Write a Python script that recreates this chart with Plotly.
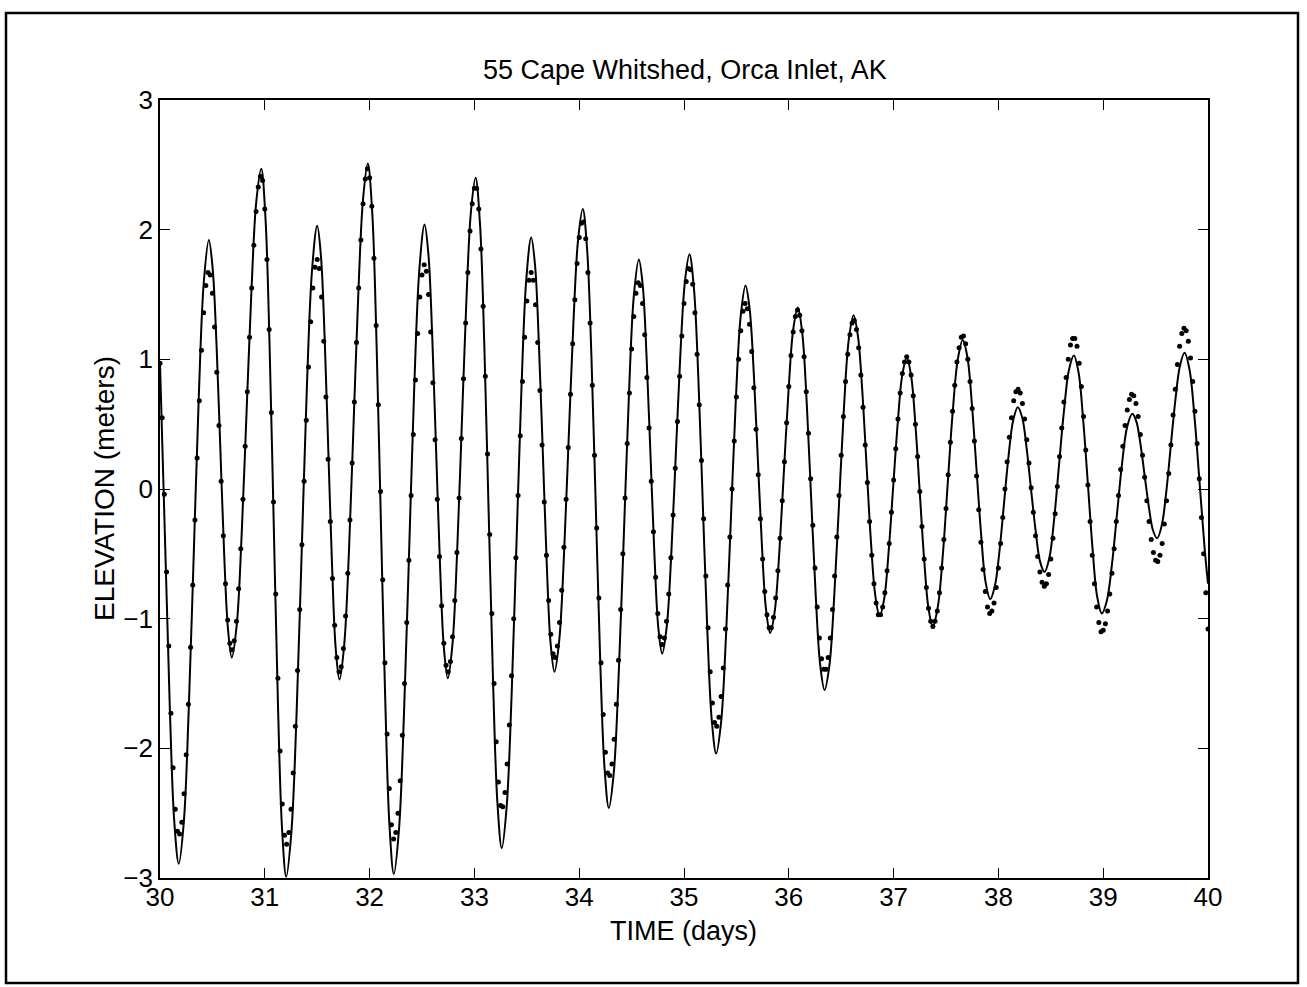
import plotly.graph_objects as go

# ---------------- data ----------------
# Observed elevation (m): one dot every half hour from day 30.0 to day 40.0
obs_start_day = 30.0
obs_step_hours = 0.5
obs_elev = [
    0.97, 0.55, -0.04, -0.64, -1.21, -1.73, -2.15, -2.47, -2.64,
    -2.66, -2.57, -2.35, -2.05, -1.66, -1.22, -0.74, -0.24, 0.24, 0.68, 1.07, 1.36, 1.57, 1.67,
    1.65, 1.51, 1.25, 0.90, 0.49, 0.06, -0.36, -0.73, -1.01, -1.19,
    -1.24, -1.17, -1.02, -0.77, -0.46, -0.08, 0.33, 0.75, 1.17, 1.55, 1.88, 2.14, 2.33, 2.41,
    2.38, 2.16, 1.77, 1.23, 0.59, -0.10, -0.81, -1.46, -2.02, -2.43, -2.67,
    -2.74, -2.65, -2.47, -2.19, -1.83, -1.40, -0.93, -0.43, 0.06, 0.53, 0.94, 1.29, 1.55, 1.71, 1.77,
    1.70, 1.48, 1.14, 0.71, 0.23, -0.25, -0.69, -1.05, -1.30, -1.41,
    -1.37, -1.23, -0.98, -0.65, -0.24, 0.20, 0.67, 1.13, 1.55, 1.92, 2.20, 2.39, 2.47,
    2.40, 2.18, 1.78, 1.26, 0.65, -0.02, -0.70, -1.34, -1.89, -2.31, -2.59, -2.70,
    -2.65, -2.50, -2.25, -1.90, -1.50, -1.03, -0.55, -0.05, 0.42, 0.84, 1.20, 1.48, 1.65, 1.73,
    1.68, 1.50, 1.21, 0.82, 0.38, -0.08, -0.52, -0.90, -1.19, -1.36,
    -1.41, -1.33, -1.14, -0.86, -0.49, -0.07, 0.39, 0.85, 1.28, 1.67, 1.99, 2.20, 2.32,
    2.32, 2.16, 1.85, 1.41, 0.87, 0.27, -0.35, -0.96, -1.50, -1.95, -2.26, -2.44,
    -2.45, -2.34, -2.12, -1.82, -1.44, -1.00, -0.53, -0.05, 0.41, 0.83, 1.17, 1.45, 1.61, 1.67,
    1.61, 1.42, 1.13, 0.76, 0.34, -0.10, -0.51, -0.86, -1.12, -1.27,
    -1.30, -1.21, -1.03, -0.78, -0.45, -0.08, 0.32, 0.73, 1.12, 1.46, 1.74, 1.94, 2.05,
    2.06, 1.93, 1.67, 1.28, 0.80, 0.26, -0.30, -0.84, -1.34, -1.74, -2.03, -2.19,
    -2.21, -2.12, -1.93, -1.66, -1.32, -0.93, -0.50, -0.07, 0.35, 0.74, 1.08, 1.33, 1.51, 1.59,
    1.57, 1.43, 1.19, 0.86, 0.47, 0.06, -0.33, -0.68, -0.96, -1.14, -1.20,
    -1.15, -1.02, -0.81, -0.53, -0.20, 0.16, 0.52, 0.87, 1.18, 1.43, 1.60, 1.70,
    1.69, 1.58, 1.36, 1.04, 0.65, 0.22, -0.23, -0.67, -1.07, -1.41, -1.65, -1.80,
    -1.83, -1.76, -1.60, -1.38, -1.08, -0.74, -0.37, 0.00, 0.37, 0.71, 1.00, 1.22, 1.37, 1.43,
    1.39, 1.27, 1.06, 0.78, 0.46, 0.11, -0.23, -0.54, -0.79, -0.97, -1.07,
    -1.07, -0.99, -0.84, -0.63, -0.38, -0.09, 0.21, 0.51, 0.79, 1.03, 1.21, 1.33, 1.38,
    1.34, 1.22, 1.02, 0.75, 0.43, 0.08, -0.28, -0.61, -0.91, -1.15, -1.31, -1.39,
    -1.39, -1.30, -1.15, -0.93, -0.67, -0.37, -0.05, 0.26, 0.56, 0.83, 1.04, 1.19, 1.28,
    1.30, 1.23, 1.09, 0.88, 0.63, 0.34, 0.05, -0.25, -0.51, -0.73, -0.88, -0.97,
    -0.97, -0.91, -0.80, -0.63, -0.42, -0.18, 0.07, 0.31, 0.54, 0.74, 0.89, 0.98, 1.02,
    0.98, 0.88, 0.72, 0.50, 0.25, -0.02, -0.29, -0.54, -0.76, -0.92, -1.02,
    -1.06, -1.02, -0.94, -0.80, -0.61, -0.39, -0.15, 0.11, 0.36, 0.60, 0.80, 0.98, 1.09, 1.17,
    1.18, 1.12, 1.00, 0.83, 0.62, 0.37, 0.10, -0.16, -0.41, -0.62, -0.79, -0.91, -0.96,
    -0.94, -0.88, -0.76, -0.61, -0.42, -0.22, 0.00, 0.21, 0.40, 0.55, 0.68, 0.75,
    0.77, 0.74, 0.66, 0.54, 0.38, 0.20, 0.01, -0.18, -0.36, -0.52, -0.64, -0.72, -0.75,
    -0.73, -0.66, -0.54, -0.38, -0.19, 0.02, 0.25, 0.47, 0.67, 0.86, 1.00, 1.11, 1.16,
    1.16, 1.10, 0.97, 0.79, 0.56, 0.30, 0.03, -0.25, -0.51, -0.73, -0.91, -1.03, -1.10,
    -1.09, -1.04, -0.94, -0.81, -0.65, -0.46, -0.25, -0.05, 0.15, 0.33, 0.49, 0.61, 0.69, 0.73,
    0.72, 0.66, 0.56, 0.42, 0.26, 0.09, -0.09, -0.25, -0.39, -0.49, -0.55,
    -0.56, -0.51, -0.42, -0.27, -0.09, 0.12, 0.34, 0.57, 0.77, 0.96, 1.10, 1.20, 1.24,
    1.22, 1.14, 1.01, 0.83, 0.60, 0.35, 0.08, -0.22, -0.50, -0.80, -1.08,
]

model_hours = [
    0.00, 1.19, 2.23, 3.26, 4.30,
    5.45, 6.59, 7.74, 8.89, 10.04, 11.19,
    12.06, 12.94, 13.82, 14.69, 15.57, 16.44,
    17.57, 18.69, 19.82, 20.94, 22.06, 23.19,
    24.14, 25.09, 26.04, 26.99, 27.95, 28.90,
    30.08, 31.27, 32.45, 33.63, 34.82, 36.00,
    36.85, 37.71, 38.56, 39.41, 40.26, 41.11,
    42.19, 43.27, 44.35, 45.43, 46.51, 47.59,
    48.59, 49.58, 50.57, 51.56, 52.56, 53.55,
    54.72, 55.89, 57.06, 58.23, 59.41, 60.58,
    61.47, 62.35, 63.24, 64.13, 65.02, 65.91,
    66.97, 68.03, 69.09, 70.15, 71.21, 72.27,
    73.27, 74.27, 75.27, 76.27, 77.27, 78.27,
    79.39, 80.52, 81.64, 82.76, 83.89, 85.01,
    85.90, 86.79, 87.68, 88.56, 89.45, 90.34,
    91.42, 92.50, 93.58, 94.66, 95.74, 96.82,
    97.81, 98.81, 99.81, 100.80, 101.80, 102.79,
    103.94, 105.08, 106.23, 107.37, 108.51, 109.66,
    110.55, 111.44, 112.34, 113.23, 114.12, 115.01,
    116.05, 117.09, 118.13, 119.17, 120.21, 121.25,
    122.27, 123.29, 124.31, 125.33, 126.35, 127.37,
    128.49, 129.61, 130.73, 131.85, 132.97, 134.09,
    135.03, 135.97, 136.91, 137.85, 138.79, 139.73,
    140.79, 141.84, 142.90, 143.96, 145.01, 146.07,
    147.09, 148.11, 149.13, 150.15, 151.17, 152.19,
    153.30, 154.40, 155.51, 156.62, 157.73, 158.83,
    159.83, 160.82, 161.81, 162.80, 163.80, 164.79,
    165.83, 166.87, 167.91, 168.95, 169.99, 171.03,
    172.02, 173.01, 174.00, 174.99, 175.99, 176.98,
    178.12, 179.27, 180.41, 181.55, 182.70, 183.84,
    184.89, 185.94, 186.99, 188.04, 189.08, 190.13,
    191.18, 192.24, 193.29, 194.34, 195.39, 196.44,
    197.46, 198.48, 199.50, 200.52, 201.54, 202.56,
    203.68, 204.80, 205.92, 207.04, 208.16, 209.28,
    210.35, 211.42, 212.49, 213.56, 214.62, 215.69,
    216.85, 218.01, 219.17, 220.33, 221.49, 222.65,
    223.60, 224.56, 225.51, 226.46, 227.41, 228.36,
    229.41, 230.45, 231.50, 232.54, 233.58, 234.63,
    235.77, 236.92, 238.07, 239.21, 240.00,
]
model_elev = [
    0.97, -0.44, -1.67, -2.56, -2.89,
    -2.57, -1.69, -0.49, 0.72, 1.60, 1.92,
    1.70, 1.12, 0.31, -0.50, -1.08, -1.30,
    -1.05, -0.36, 0.59, 1.53, 2.22, 2.47,
    2.10, 1.11, -0.26, -1.63, -2.62, -2.99,
    -2.65, -1.74, -0.48, 0.78, 1.69, 2.03,
    1.80, 1.16, 0.28, -0.60, -1.24, -1.47,
    -1.20, -0.48, 0.52, 1.52, 2.24, 2.51,
    2.14, 1.14, -0.23, -1.60, -2.60, -2.97,
    -2.63, -1.72, -0.47, 0.79, 1.70, 2.04,
    1.81, 1.17, 0.29, -0.59, -1.23, -1.46,
    -1.20, -0.50, 0.47, 1.44, 2.14, 2.40,
    2.05, 1.11, -0.19, -1.48, -2.42, -2.77,
    -2.45, -1.59, -0.42, 0.76, 1.62, 1.94,
    1.72, 1.10, 0.27, -0.57, -1.19, -1.41,
    -1.17, -0.52, 0.38, 1.27, 1.92, 2.16,
    1.85, 1.01, -0.15, -1.31, -2.15, -2.46,
    -2.18, -1.40, -0.35, 0.71, 1.49, 1.77,
    1.57, 1.01, 0.25, -0.51, -1.07, -1.27,
    -1.06, -0.50, 0.27, 1.04, 1.60, 1.81,
    1.55, 0.85, -0.12, -1.08, -1.78, -2.04,
    -1.80, -1.14, -0.24, 0.67, 1.33, 1.57,
    1.39, 0.90, 0.23, -0.44, -0.93, -1.11,
    -0.94, -0.48, 0.15, 0.77, 1.23, 1.40,
    1.20, 0.66, -0.08, -0.81, -1.35, -1.55,
    -1.36, -0.83, -0.11, 0.62, 1.15, 1.34,
    1.18, 0.76, 0.18, -0.40, -0.82, -0.98,
    -0.85, -0.48, 0.02, 0.51, 0.88, 1.01,
    0.87, 0.49, -0.03, -0.54, -0.92, -1.06,
    -0.91, -0.51, 0.05, 0.60, 1.00, 1.15,
    1.02, 0.65, 0.15, -0.35, -0.72, -0.85,
    -0.75, -0.48, -0.11, 0.26, 0.53, 0.63,
    0.55, 0.31, -0.01, -0.32, -0.56, -0.64,
    -0.53, -0.22, 0.20, 0.61, 0.92, 1.03,
    0.90, 0.53, 0.04, -0.46, -0.83, -0.96,
    -0.86, -0.58, -0.19, 0.20, 0.48, 0.58,
    0.52, 0.34, 0.10, -0.14, -0.32, -0.38,
    -0.28, -0.02, 0.34, 0.69, 0.95, 1.05,
    0.92, 0.55, 0.05, -0.45, -0.73,
]

x_ticks = [30, 31, 32, 33, 34, 35, 36, 37, 38, 39, 40]
y_ticks = [-3, -2, -1, 0, 1, 2, 3]

title_text = "55 Cape Whitshed, Orca Inlet, AK"
x_title = "TIME (days)"
y_title = "ELEVATION (meters)"

# ---------------- figure ----------------
obs_days = [obs_start_day + i * obs_step_hours / 24.0 for i in range(len(obs_elev))]
model_days = [obs_start_day + h / 24.0 for h in model_hours]

FONT = "Liberation Sans, Arial, Helvetica, sans-serif"

fig = go.Figure()
fig.add_trace(go.Scatter(
    x=model_days, y=model_elev, mode="lines",
    line=dict(color="black", width=2.0, shape="spline", smoothing=1.0),
    hoverinfo="skip", showlegend=False,
))
fig.add_trace(go.Scatter(
    x=obs_days, y=obs_elev, mode="markers",
    marker=dict(color="black", size=5, line=dict(width=0)),
    hoverinfo="skip", showlegend=False,
))

L, R, T, B = 160, 1208, 100, 878
W, H = 1307, 987
pw, ph = R - L, B - T


def px_x(x):
    return (x - L) / pw


def px_y(y):
    return (B - y) / ph


fig.update_layout(
    width=W, height=H,
    margin=dict(l=L, r=W - R, t=T, b=H - B, pad=0),
    paper_bgcolor="white", plot_bgcolor="white",
    font=dict(family=FONT, size=26, color="black"),
    showlegend=False,
)

axis_common = dict(
    ticks="inside", ticklen=10, tickwidth=1.3, tickcolor="black",
    showline=True, linecolor="black", linewidth=1.8, mirror="ticks",
    showgrid=False, zeroline=False,
    tickfont=dict(family=FONT, size=26, color="black"),
)
fig.update_xaxes(range=[30, 40], tickvals=x_ticks, ticktext=[str(v) for v in x_ticks],
                 ticklabelstandoff=-5, **axis_common)
fig.update_yaxes(range=[-3, 3], tickvals=y_ticks, **axis_common)

fig.add_annotation(text=title_text, xref="paper", yref="paper",
                   x=px_x(685), y=px_y(70), showarrow=False,
                   xanchor="center", yanchor="middle",
                   font=dict(family=FONT, size=27, color="black"))
fig.add_annotation(text=x_title, xref="paper", yref="paper",
                   x=px_x(683), y=px_y(931), showarrow=False,
                   xanchor="center", yanchor="middle",
                   font=dict(family=FONT, size=27, color="black"))
fig.add_annotation(text=y_title, xref="paper", yref="paper",
                   x=px_x(104), y=px_y(489), showarrow=False, textangle=-90,
                   xanchor="center", yanchor="middle",
                   font=dict(family=FONT, size=28, color="black"))

# outer frame around the whole figure
fig.add_shape(type="rect", xref="paper", yref="paper",
              x0=px_x(6), x1=px_x(1298), y0=px_y(983), y1=px_y(13),
              line=dict(color="black", width=2.5), fillcolor="rgba(0,0,0,0)")

fig.write_html("out.html", config={"displayModeBar": False})
